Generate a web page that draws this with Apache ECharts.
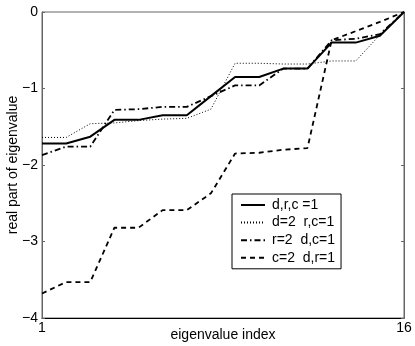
<!DOCTYPE html>
<html>
<head>
<meta charset="utf-8">
<script src="https://cdn.jsdelivr.net/npm/echarts@6/dist/echarts.min.js"></script>
<style>
  html, body { margin: 0; padding: 0; background: #fff; }
  #chart { width: 415px; height: 346px; }
</style>
</head>
<body>
<div id="chart"></div>
<script>
// eigenvalue index 1..16
var indexList = [1, 2, 3, 4, 5, 6, 7, 8, 9, 10, 11, 12, 13, 14, 15, 16];
var yTicks = [-4, -3, -2, -1, 0];
var xTicks = [1, 16];

var names = ['d,r,c =1', 'd=2  r,c=1', 'r=2  d,c=1', 'c=2  d,r=1'];

var allOne = [-1.72, -1.72, -1.63, -1.41, -1.41, -1.35, -1.35, -1.10, -0.85, -0.85, -0.74, -0.74, -0.40, -0.40, -0.31, 0];
var dTwo   = [-1.64, -1.64, -1.46, -1.45, -1.42, -1.40, -1.39, -1.27, -0.67, -0.67, -0.68, -0.68, -0.64, -0.64, -0.30, 0];
var rTwo   = [-1.87, -1.76, -1.76, -1.28, -1.27, -1.24, -1.24, -1.10, -0.96, -0.96, -0.74, -0.74, -0.37, -0.35, -0.29, 0];
var cTwo   = [-3.68, -3.53, -3.53, -2.82, -2.82, -2.59, -2.59, -2.37, -1.85, -1.84, -1.80, -1.78, -0.37, -0.25, -0.13, 0];

function pairs(vals) {
    return indexList.map(function (x, i) { return [x, vals[i]]; });
}

var font = 'Liberation Sans';

function yAxisCfg(pos, withLabels) {
    return {
        type: 'value',
        position: pos,
        min: -4,
        max: 0,
        interval: 1,
        name: withLabels ? 'real part of eigenvalue' : '',
        nameLocation: 'middle',
        nameMoveOverlap: false,
        nameGap: 22,
        nameTextStyle: { fontFamily: font, fontSize: 14, color: '#000' },
        axisLine: { show: true, onZero: false, lineStyle: { color: '#666', width: 1 } },
        axisTick: { show: true, inside: true, length: 3, lineStyle: { color: '#666' } },
        splitLine: { show: false },
        axisLabel: {
            show: withLabels,
            fontFamily: font, fontSize: 14, color: '#000', margin: 4,
            formatter: function (v) { return yTicks.indexOf(v) >= 0 ? String(v).replace('-', '\u2212') : ''; }
        }
    };
}

var chart = echarts.init(document.getElementById('chart'));
var option = {
    animation: false,
    backgroundColor: '#fff',
    grid: {
        left: 42, right: 11, top: 12, bottom: 28,
        outerBoundsMode: 'none',
        show: true, borderColor: '#666', borderWidth: 1
    },
    legend: {
        orient: 'vertical',
        left: 232,
        top: 194,
        width: 115,
        padding: [4, 6, 4, 8],
        itemWidth: 24,
        itemHeight: 14,
        itemGap: 3.6,
        backgroundColor: '#fff',
        borderColor: '#000',
        borderWidth: 1,
        borderRadius: 0,
        itemStyle: { opacity: 0 },
        textStyle: { fontFamily: font, fontSize: 14, color: '#000', padding: [0, 0, 0, 2] },
        data: names
    },
    xAxis: {
        type: 'value',
        min: 1,
        max: 16,
        name: 'eigenvalue index',
        nameLocation: 'middle',
        nameMoveOverlap: false,
        nameGap: 10,
        nameTextStyle: { fontFamily: font, fontSize: 14, color: '#000' },
        axisLine: { show: true, onZero: false, lineStyle: { color: '#000', width: 1 } },
        axisTick: { show: false },
        splitLine: { show: false },
        axisLabel: {
            fontFamily: font, fontSize: 14, color: '#000', margin: 3,
            customValues: xTicks
        }
    },
    yAxis: [yAxisCfg('left', true), yAxisCfg('right', false)],
    series: [{
        name: names[0],
        type: 'line',
        data: pairs(allOne),
        symbol: 'none',
        lineStyle: { color: '#000', width: 2, type: 'solid' },
        itemStyle: { color: '#000' }
    }, {
        name: names[1],
        type: 'line',
        data: pairs(dTwo),
        symbol: 'none',
        lineStyle: { color: '#000', width: 1, type: [1, 2] },
        itemStyle: { color: '#000' }
    }, {
        name: names[2],
        type: 'line',
        data: pairs(rTwo),
        symbol: 'none',
        lineStyle: { color: '#000', width: 1.8, type: [6, 3, 1.5, 3] },
        itemStyle: { color: '#000' }
    }, {
        name: names[3],
        type: 'line',
        data: pairs(cTwo),
        symbol: 'none',
        lineStyle: { color: '#000', width: 1.8, type: [5, 4] },
        itemStyle: { color: '#000' }
    }]
};
chart.setOption(option);
</script>
</body>
</html>
